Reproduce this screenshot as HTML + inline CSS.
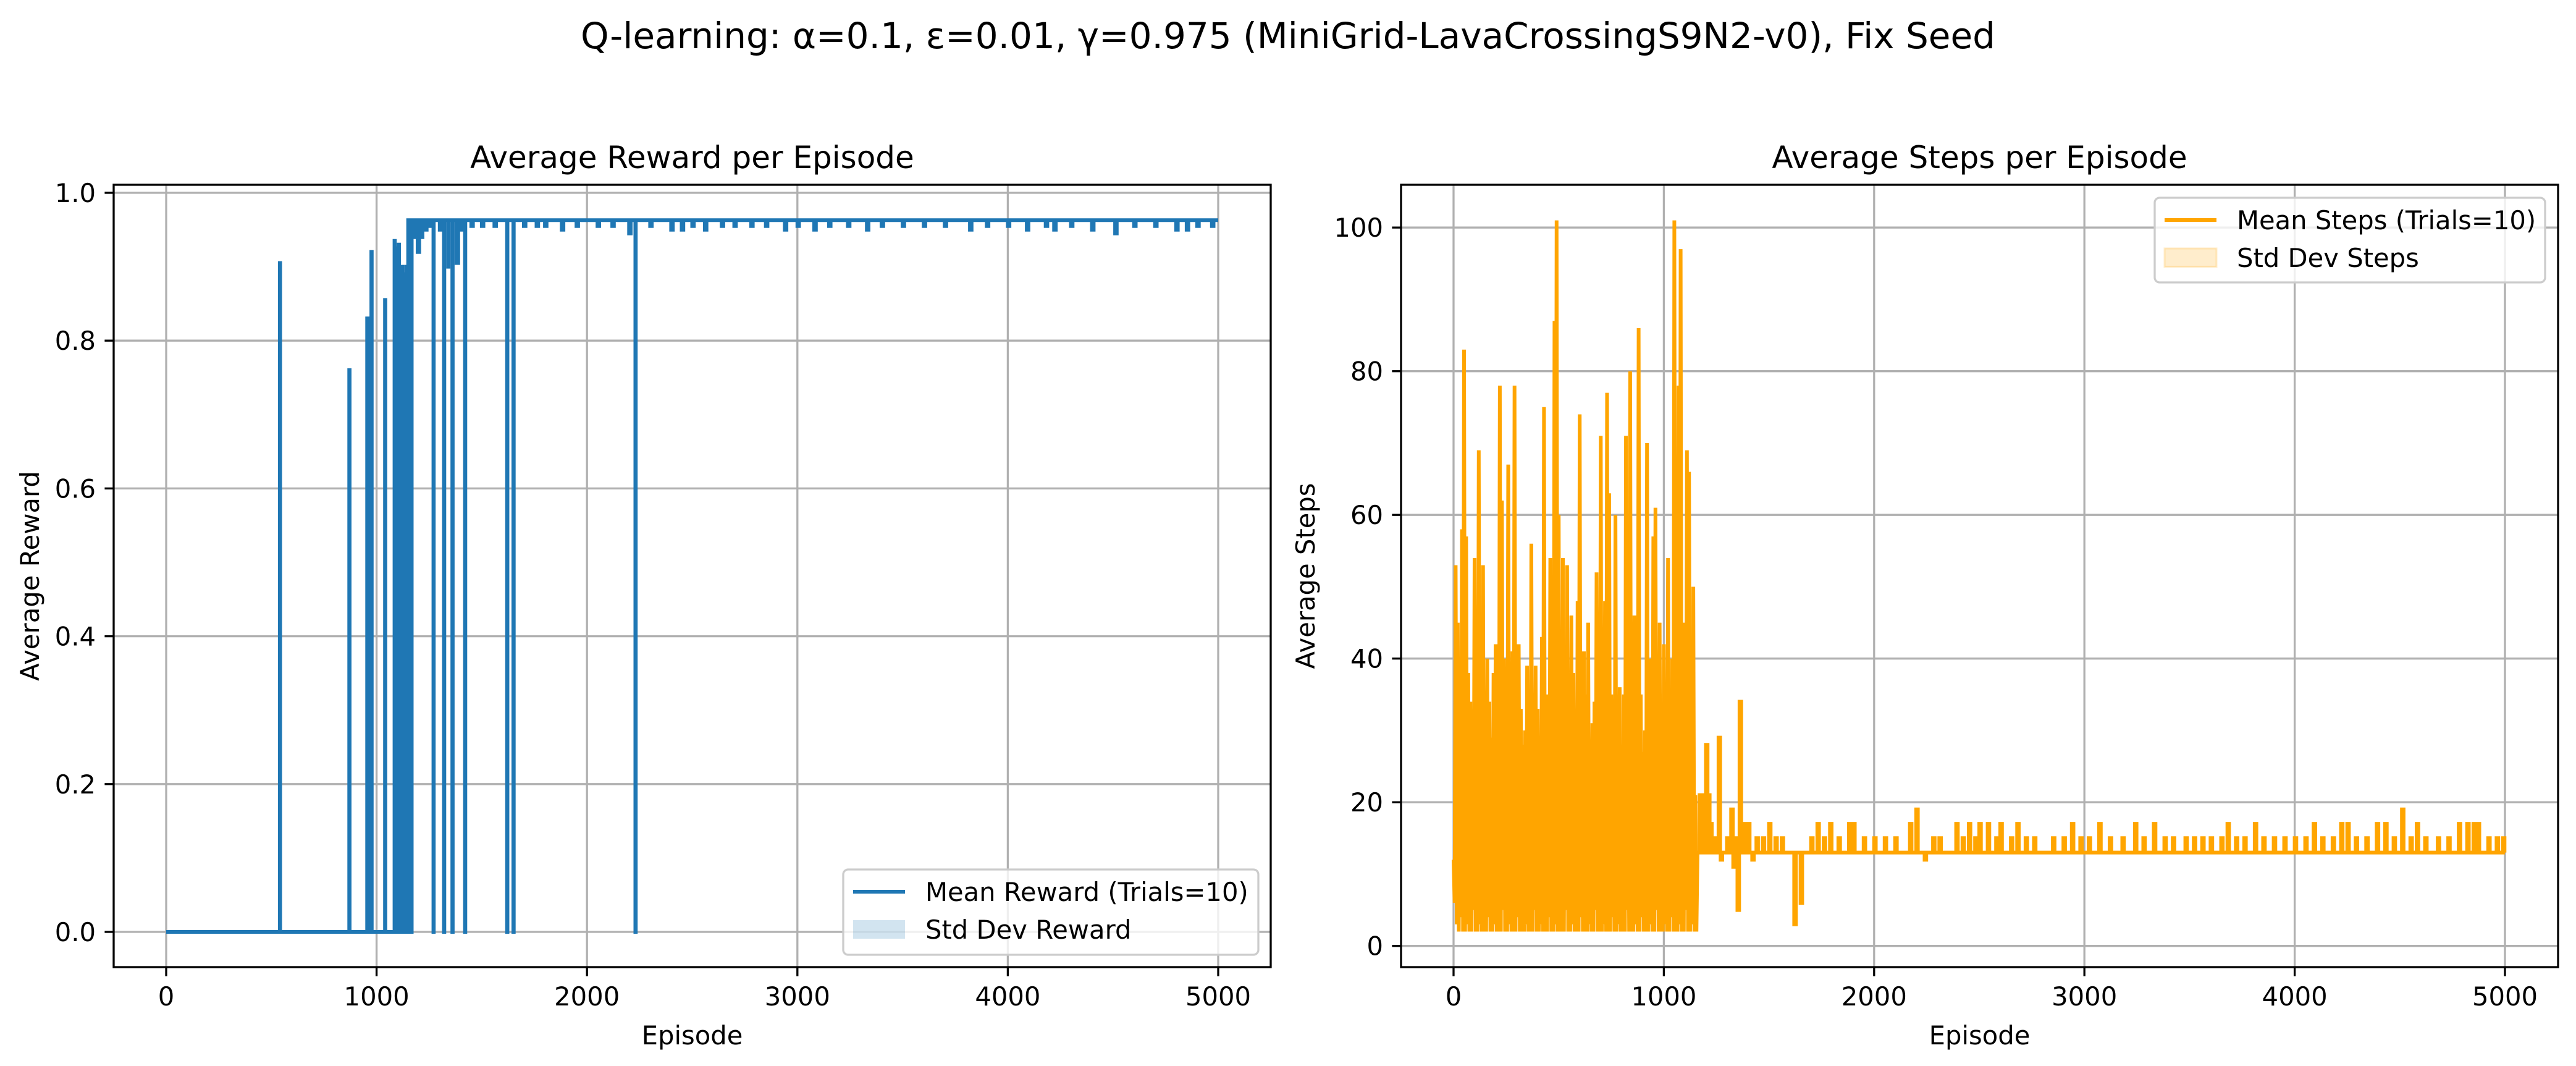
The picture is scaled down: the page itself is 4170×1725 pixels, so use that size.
<!DOCTYPE html>
<html><head><meta charset="utf-8"><style>
html,body{margin:0;padding:0;background:#fff;}
svg{display:block;font-family:"DejaVu Sans","Liberation Sans",sans-serif;}
</style></head><body>
<svg id="fig" width="4170" height="1725" viewBox="0 0 4170 1725" xmlns="http://www.w3.org/2000/svg">
<rect width="4170" height="1725" fill="#fff"/>
<text x="2085" y="78" font-size="58" text-anchor="middle">Q-learning: α=0.1, ε=0.01, γ=0.975 (MiniGrid-LavaCrossingS9N2-v0), Fix Seed</text>
<g id="left"></g>
<g id="right"></g>
</svg>
<script>
// ---- Reward chart data ----
const rewardXTicks = [0,1000,2000,3000,4000,5000];
const rewardYTicks = [0.0,0.2,0.4,0.6,0.8,1.0];
const rewardYTickLabels = ["0.0","0.2","0.4","0.6","0.8","1.0"];
const rewardConvergeEpisode = 1150;
const rewardConvergedValue = 0.963;
const rewardEarlySpikeEps = [540,870,955,965,975,1040,1085,1095,1105,1120,1130,1140];
const rewardEarlySpikeVals = [0.905,0.76,0.83,0.83,0.92,0.855,0.935,0.925,0.93,0.90,0.89,0.90];
const rewardDipEps = [1165,1175,1185,1195,1210,1230,1250,1270,1300,1320,1340,1360,1380,1400,1420,1450,1500,1560,1620,1650,1700,1760,1800,1880,1950,2050,2120,2200,2230,2300,2400,2450,2500,2560,2640,2700,2780,2850,2940,3000,3080,3150,3240,3330,3400,3500,3600,3700,3820,3900,4000,4090,4180,4220,4300,4400,4510,4600,4700,4800,4850,4900,4970];
const rewardDipVals = [0,0.94,0.95,0.92,0.94,0.95,0.955,0,0.95,0,0.90,0,0.905,0.95,0,0.955,0.955,0.955,0,0,0.955,0.955,0.955,0.95,0.955,0.955,0.955,0.945,0,0.955,0.95,0.95,0.955,0.95,0.955,0.955,0.955,0.955,0.95,0.955,0.95,0.955,0.955,0.95,0.955,0.955,0.955,0.955,0.95,0.955,0.955,0.95,0.955,0.95,0.955,0.95,0.945,0.955,0.955,0.95,0.95,0.955,0.955];

// ---- Steps chart data ----
const stepsXTicks = [0,1000,2000,3000,4000,5000];
const stepsYTicks = [0,20,40,60,80,100];
const stepsEarlyHigh = [12,53,45,30,58,83,57,38,34,30,54,28,69,35,53,30,40,34,29,38,42,25,78,62,40,30,67,35,41,78,30,42,33,28,30,39,25,56,30,39,33,25,43,75,35,35,54,30,87,101,60,32,54,35,53,30,46,38,25,48,74,30,41,35,45,28,31,34,52,30,71,38,48,77,63,35,33,60,30,36,28,35,71,32,80,40,46,30,86,35,27,30,70,35,40,57,61,37,45,30,42,35,54,30,40,101,40,78,97,35,45,69,66,30,50,21];
const stepsEarlyLow = [6,3,2,4,2,2,3,2,2,5,2,2,3,2,2,2,4,2,2,3,2,2,2,5,2,2,3,2,2,2,4,2,2,2,3,2,2,2,5,2,2,3,2,2,2,4,2,2,3,2,2,2,2,5,2,2,3,2,2,2,4,2,2,2,3,2,2,5,2,2,2,3,2,2,2,4,2,2,3,2,2,2,5,2,2,2,3,2,2,4,2,2,2,3,2,2,5,2,2,2,3,2,2,4,2,2,2,3,2,2,5,2,2,3,2,2];
const stepsBaseline = 13;
const stepsBlipEps = [1170,1180,1190,1200,1210,1220,1240,1260,1270,1300,1320,1330,1340,1350,1360,1380,1400,1420,1440,1470,1500,1530,1560,1620,1650,1700,1730,1760,1790,1830,1880,1900,1950,2000,2050,2100,2170,2200,2240,2280,2310,2390,2420,2450,2480,2500,2540,2580,2600,2650,2680,2720,2760,2850,2900,2940,2980,3020,3070,3120,3180,3240,3280,3330,3380,3420,3480,3520,3560,3600,3650,3680,3720,3760,3810,3850,3900,3950,4000,4050,4090,4130,4180,4220,4250,4290,4340,4390,4430,4470,4510,4550,4580,4620,4680,4730,4780,4820,4850,4870,4920,4960,4990];
const stepsBlipVals = [21,17,21,28,21,17,15,29,12,15,19,11,15,5,34,17,17,12,15,15,17,15,15,3,6,15,17,15,17,15,17,17,15,15,15,15,17,19,12,15,15,17,15,17,15,17,17,15,17,15,17,15,15,15,15,17,15,15,17,15,15,17,15,17,15,15,15,15,15,15,15,17,15,15,17,15,15,15,15,15,17,15,15,17,17,15,15,17,17,15,19,15,17,15,15,15,17,17,17,17,15,15,15];

const NS = "http://www.w3.org/2000/svg";
function mk(parent, tag, attrs, text){
  const e = document.createElementNS(NS, tag);
  for (const k in attrs) e.setAttribute(k, attrs[k]);
  if (text !== undefined) e.textContent = text;
  parent.appendChild(e);
  return e;
}

function buildAxes(g, cfg){
  const {L,R,T,B,x,y,xTicks,yTicks,prefix} = cfg;
  xTicks.forEach(v=>{
    const gl = mk(g,'line',{x1:x(v),x2:x(v),y1:T,y2:B,stroke:'#b0b0b0','stroke-width':3.3});
    
    
  });
  yTicks.forEach(v=>{
    const gl = mk(g,'line',{x1:L,x2:R,y1:y(v),y2:y(v),stroke:'#b0b0b0','stroke-width':3.3});
    
    
  });
}
function finishAxes(g, cfg){
  const {L,R,T,B,x,y,xTicks,yTicks,yLabels,title,ylabel,prefix} = cfg;
  const sp = mk(g,'rect',{x:L,y:T,width:R-L,height:B-T,fill:'none',stroke:'#000','stroke-width':3.3});
  
  
  xTicks.forEach(v=>{
    mk(g,'line',{x1:x(v),x2:x(v),y1:B,y2:B+14.6,stroke:'#000','stroke-width':3.3});
    const t = mk(g,'text',{x:x(v),y:B+62,'font-size':41.7,'text-anchor':'middle'},String(v));
    
    
  });
  yTicks.forEach((v,i)=>{
    mk(g,'line',{x1:L-14.6,x2:L,y1:y(v),y2:y(v),stroke:'#000','stroke-width':3.3});
    const t = mk(g,'text',{x:L-29,y:y(v)+15,'font-size':41.7,'text-anchor':'end'},yLabels[i]);
    
    
  });
  const tt = mk(g,'text',{x:(L+R)/2,y:T-27,'font-size':50,'text-anchor':'middle'},title);
  
  
  const xl = mk(g,'text',{x:(L+R)/2,y:1690,'font-size':41.7,'text-anchor':'middle'},'Episode');
  
  
  const yx = cfg.ylabelX, yy=(T+B)/2;
  const yl = mk(g,'text',{x:yx,y:yy,'font-size':41.7,'text-anchor':'middle',transform:`rotate(-90 ${yx} ${yy})`},ylabel);
  
  
}
function legend(g, box, entries, prefix){
  const lg = mk(g,'g',{});
  
  
  mk(lg,'rect',{x:box.x,y:box.y,width:box.w,height:box.h,rx:8,fill:'#fff','fill-opacity':0.8,stroke:'#cccccc','stroke-width':3.3});
  entries.forEach((en,i)=>{
    const cy = box.y + 36 + i*61;
    const eg = mk(lg,'g',{});
    
    
    if (en.type==='line') mk(eg,'line',{x1:box.x+16,x2:box.x+100,y1:cy,y2:cy,stroke:en.color,'stroke-width':6});
    else mk(eg,'rect',{x:box.x+16,y:cy-15,width:84,height:30,fill:en.color,'fill-opacity':0.2,stroke:en.edge||'none','stroke-opacity':0.2,'stroke-width':3});
    mk(eg,'text',{x:box.x+133,y:cy+15,'font-size':41.7},en.label);
  });
}

// ---- Left chart ----
(function(){
  const g = document.getElementById('left');
  const L=184,R=2057,T=299,B=1565;
  const x = v => 269 + v*(1972-269)/5000;
  const y = v => 1508 - v*(1508-312);
  const cfg={L,R,T,B,x,y,xTicks:rewardXTicks,yTicks:rewardYTicks,yLabels:rewardYTickLabels,title:'Average Reward per Episode',ylabel:'Average Reward',prefix:'reward-',ylabelX:63};
  buildAxes(g,cfg);
  const events=[];
  rewardEarlySpikeEps.forEach((e,i)=>events.push([e,rewardEarlySpikeVals[i]]));
  rewardDipEps.forEach((e,i)=>events.push([e,rewardDipVals[i]]));
  events.sort((a,b)=>a[0]-b[0]);
  const base = e => e < rewardConvergeEpisode ? 0 : rewardConvergedValue;
  let pts=[[0,0]];
  let convDone=false;
  events.forEach(([e,v])=>{
    if(!convDone && e>=rewardConvergeEpisode){pts.push([rewardConvergeEpisode,0],[rewardConvergeEpisode,rewardConvergedValue]);convDone=true;}
    const w = (v>0.9 && e>=rewardConvergeEpisode) ? 8 : 2;
    pts.push([e,base(e)],[e,v],[e+w,v],[e+w,base(e)]);
  });
  pts.push([5000,rewardConvergedValue]);
  const d = pts.map((p,i)=>(i?'L':'M')+x(p[0]).toFixed(1)+' '+y(p[1]).toFixed(1)).join(' ');
  const path = mk(g,'path',{d,fill:'none',stroke:'#1f77b4','stroke-width':6,'stroke-linejoin':'miter'});
  
  
  finishAxes(g,cfg);
  legend(g,{x:1365,y:1407,w:672,h:138},[{type:'line',color:'#1f77b4',label:'Mean Reward (Trials=10)'},{type:'patch',color:'#1f77b4',label:'Std Dev Reward'}],'reward-');
})();

// ---- Right chart ----
(function(){
  const g = document.getElementById('right');
  const L=2268,R=4141,T=299,B=1565;
  const x = v => 2353 + v*(4055-2353)/5000;
  const y = v => 1530.7 - v*11.625;
  const cfg={L,R,T,B,x,y,xTicks:stepsXTicks,yTicks:stepsYTicks,yLabels:stepsYTicks.map(String),title:'Average Steps per Episode',ylabel:'Average Steps',prefix:'steps-',ylabelX:2128};
  buildAxes(g,cfg);
  let pts=[];
  stepsEarlyHigh.forEach((v,i)=>{
    pts.push([i*10,v]);
    pts.push([i*10+5,stepsEarlyLow[i]]);
  });
  pts.push([1160,stepsBaseline]);
  stepsBlipEps.forEach((e,i)=>{
    pts.push([e,stepsBaseline],[e,stepsBlipVals[i]],[e+8,stepsBlipVals[i]],[e+8,stepsBaseline]);
  });
  pts.push([5000,stepsBaseline]);
  const d = pts.map((p,i)=>(i?'L':'M')+x(p[0]).toFixed(1)+' '+y(p[1]).toFixed(1)).join(' ');
  const path = mk(g,'path',{d,fill:'none',stroke:'#ffa500','stroke-width':6,'stroke-linejoin':'miter'});
  
  
  finishAxes(g,cfg);
  legend(g,{x:3488,y:320,w:632,h:137},[{type:'line',color:'#ffa500',label:'Mean Steps (Trials=10)'},{type:'patch',color:'#ffa500',edge:'#ffa500',label:'Std Dev Steps'}],'steps-');
})();
</script>
</body></html>
